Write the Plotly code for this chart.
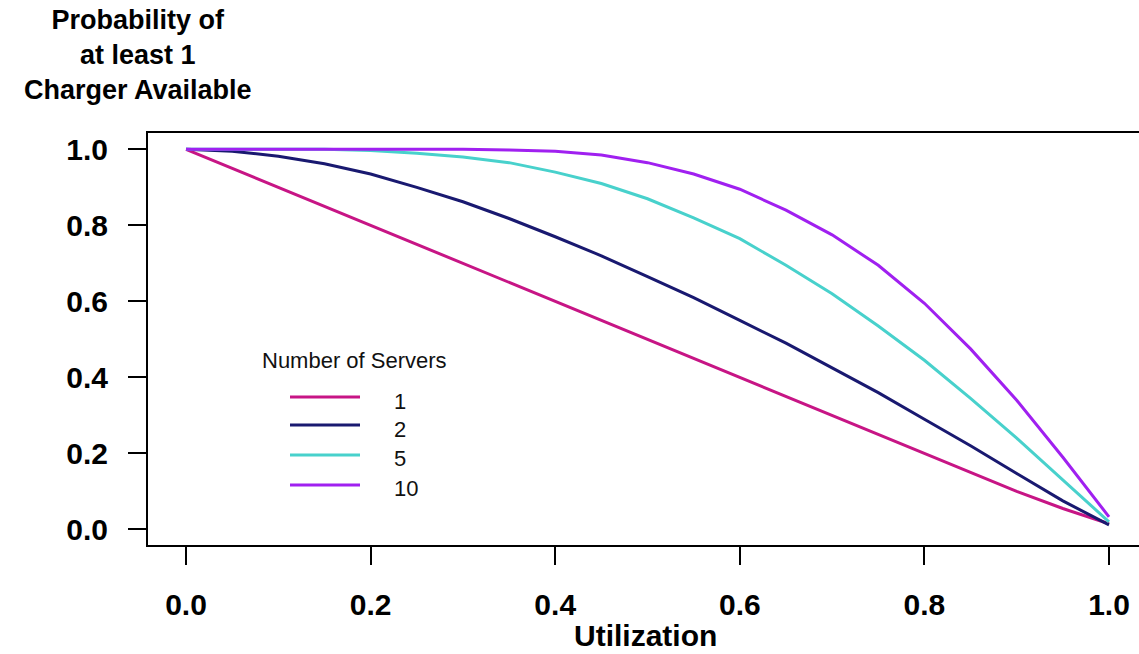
import plotly.graph_objects as go

utilization = [0.00, 0.05, 0.10, 0.15, 0.20, 0.25, 0.30, 0.35, 0.40, 0.45, 0.50,
               0.55, 0.60, 0.65, 0.70, 0.75, 0.80, 0.85, 0.90, 0.95, 1.00]

servers_1 = [1.00, 0.95, 0.90, 0.85, 0.80, 0.75, 0.70, 0.65, 0.60, 0.55, 0.50,
             0.45, 0.40, 0.35, 0.30, 0.25, 0.20, 0.15, 0.10, 0.055, 0.015]
servers_2 = [1.00, 0.995, 0.982, 0.962, 0.935, 0.90, 0.862, 0.818, 0.77, 0.72, 0.665,
             0.61, 0.55, 0.49, 0.425, 0.36, 0.29, 0.22, 0.147, 0.075, 0.012]
servers_5 = [1.00, 1.00, 1.00, 1.00, 0.997, 0.99, 0.98, 0.965, 0.94, 0.91, 0.87,
             0.82, 0.765, 0.695, 0.62, 0.535, 0.445, 0.345, 0.24, 0.13, 0.02]
servers_10 = [1.00, 1.00, 1.00, 1.00, 1.00, 1.00, 1.00, 0.998, 0.995, 0.985, 0.965,
              0.935, 0.895, 0.84, 0.775, 0.695, 0.595, 0.475, 0.34, 0.19, 0.033]

series_names = ["1", "2", "5", "10"]
series_values = [servers_1, servers_2, servers_5, servers_10]
series_colors = ["#C71585", "#191970", "#48D1CC", "#A020F0"]

tick_vals = [0.0, 0.2, 0.4, 0.6, 0.8, 1.0]
tick_text = ["0.0", "0.2", "0.4", "0.6", "0.8", "1.0"]

FONT = "Arial, Liberation Sans, sans-serif"

fig = go.Figure()
for name, vals, col in zip(series_names, series_values, series_colors):
    fig.add_trace(go.Scatter(x=utilization, y=vals, mode="lines", name=name,
                             line=dict(color=col, width=3), showlegend=False))

W, H = 1139, 654
ml, mr, mt, mb = 148, 0, 133, 109
pw, ph = W - ml - mr, H - mt - mb


def px_x(p):
    return (p - ml) / pw


def px_y(p):
    return (H - mb - p) / ph


axis_common = dict(
    tickvals=tick_vals, ticktext=tick_text, ticks="outside", ticklen=18,
    tickwidth=2, tickcolor="black", showline=True, linewidth=2, linecolor="black",
    showgrid=False, zeroline=False,
    tickfont=dict(family=FONT, size=30, color="black", weight="bold"),
)

fig.update_layout(
    width=W, height=H,
    margin=dict(l=ml, r=mr, t=mt, b=mb, pad=0),
    plot_bgcolor="white", paper_bgcolor="white",
    xaxis=dict(range=[-0.0412, 1.0325], mirror=True, ticklabelstandoff=14, **axis_common),
    yaxis=dict(range=[-0.041, 1.043], ticklabelstandoff=14, **axis_common),
)

annotations = [
    dict(text="Probability of<br>at least 1<br>Charger Available", x=px_x(138), y=px_y(3),
         xref="paper", yref="paper", xanchor="center", yanchor="top", align="center",
         showarrow=False, font=dict(family=FONT, size=27, color="black", weight="bold")),
    dict(text="Utilization", x=px_x(645), y=px_y(635), xref="paper", yref="paper",
         xanchor="center", yanchor="middle", showarrow=False,
         font=dict(family=FONT, size=30, color="black", weight="bold")),
    dict(text="Number of Servers", x=px_x(354), y=px_y(360), xref="paper", yref="paper",
         xanchor="center", yanchor="middle", showarrow=False,
         font=dict(family=FONT, size=22, color="#111111")),
]

shapes = []
line_rows = [397, 425, 455, 485]
label_rows = [401, 429, 458, 488]
for name, col, ly, ty in zip(series_names, series_colors, line_rows, label_rows):
    shapes.append(dict(type="line", xref="paper", yref="paper",
                       x0=px_x(290), x1=px_x(360), y0=px_y(ly), y1=px_y(ly),
                       line=dict(color=col, width=3)))
    annotations.append(dict(text=name, x=px_x(392), y=px_y(ty), xref="paper", yref="paper",
                            xanchor="left", yanchor="middle", showarrow=False,
                            font=dict(family=FONT, size=22, color="#111111")))

fig.update_layout(annotations=annotations, shapes=shapes)
fig.write_html("out.html")
